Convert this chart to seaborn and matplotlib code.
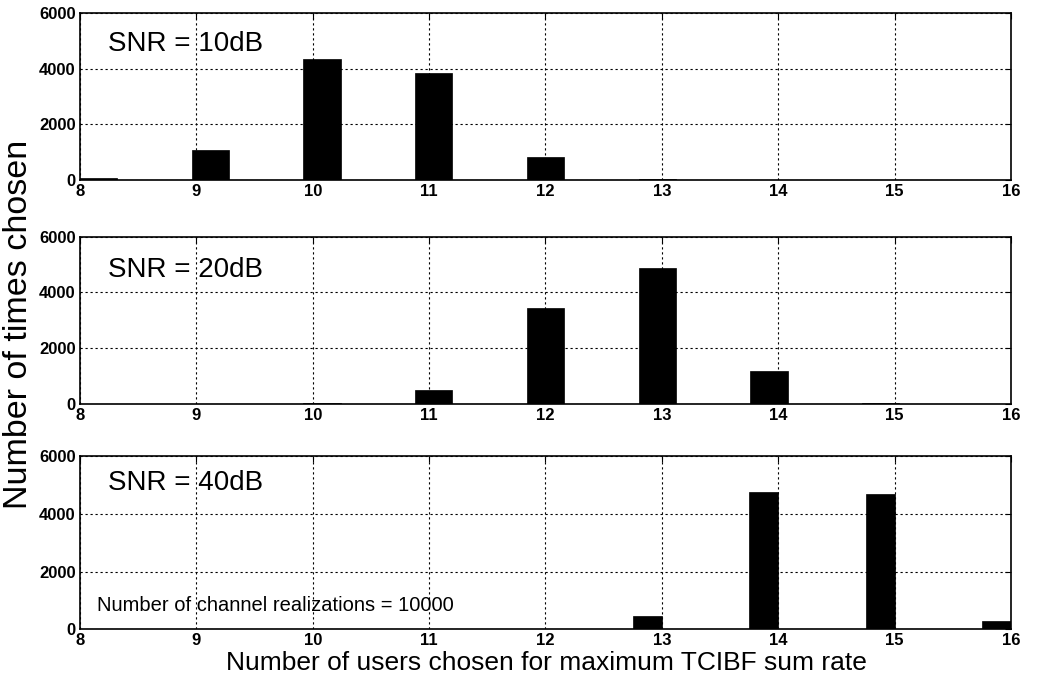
import numpy as np
import pandas as pd
import matplotlib
matplotlib.use("Agg")
import matplotlib.pyplot as plt
import seaborn as sns

# Number of users selected for maximum TCIBF sum rate (10000 channel realizations)
users = np.array([8, 9, 10, 11, 12, 13, 14, 15, 16])
counts_10db = np.array([60, 1070, 4350, 3830, 830, 20, 0, 0, 0])
counts_20db = np.array([0, 0, 30, 500, 3430, 4860, 1170, 20, 0])
counts_40db = np.array([0, 0, 0, 0, 15, 470, 4760, 4670, 280])
snr_labels = ["SNR = 10dB", "SNR = 20dB", "SNR = 40dB"]
x_ticks = [8, 9, 10, 11, 12, 13, 14, 15, 16]
y_ticks = [0, 2000, 4000, 6000]

sns.set_style("white")
plt.rcParams["font.family"] = ["Liberation Sans", "DejaVu Sans"]

fig = plt.figure(figsize=(10.41, 6.85), dpi=100)

# axes rectangles: left, bottom, width, height (figure fraction)
rects = [
    [0.0768, 0.7372, 0.8944, 0.2438],
    [0.0768, 0.4107, 0.8944, 0.2438],
    [0.0768, 0.0813, 0.8944, 0.2530],
]
# histogram binning used for each panel: (bin width, range, right-closed bins)
bin_widths = [0.32, 0.32, 0.25]
bin_ranges = [(8.0, 16.0), (8.0, 16.0), (7.75, 16.0)]
right_closed = [False, False, True]
label_y = [0.815, 0.80, 0.845]

for i, counts in enumerate([counts_10db, counts_20db, counts_40db]):
    ax = fig.add_axes(rects[i])
    w = bin_widths[i]
    lo, hi = bin_ranges[i]
    nb = int(round((hi - lo) / w))
    if right_closed[i]:
        idx = np.ceil((users - lo) / w - 1e-9).astype(int) - 1
    else:
        idx = np.floor((users - lo) / w + 1e-9).astype(int)
    idx = np.clip(idx, 0, nb - 1)
    centers = lo + (idx + 0.5) * w
    df = pd.DataFrame({"users": centers, "count": counts.astype(float)})
    sns.histplot(data=df, x="users", weights="count", binwidth=w,
                 binrange=(lo, hi), ax=ax, color="black", edgecolor="black",
                 linewidth=0.5, alpha=1.0, element="bars", fill=True)
    ax.set_xlim(8, 16)
    ax.set_ylim(0, 6000)
    ax.set_xticks(x_ticks)
    ax.set_yticks(y_ticks)
    ax.set_xticklabels([str(t) for t in x_ticks], fontsize=12, fontweight="bold")
    ax.set_yticklabels([str(t) for t in y_ticks], fontsize=12, fontweight="bold")
    ax.set_xlabel("")
    ax.set_ylabel("")
    ax.set_axisbelow(True)
    ax.grid(True, color="black", linestyle=(0, (2, 2.5)), linewidth=0.8)
    ax.tick_params(direction="in", top=True, right=True, length=4,
                   width=0.8, pad=3, colors="black")
    for sp in ax.spines.values():
        sp.set_visible(True)
        sp.set_color("black")
        sp.set_linewidth(1.2)
    ax.text(0.030, label_y[i], snr_labels[i], transform=ax.transAxes,
            fontsize=20, va="center", ha="left", color="black")
    if i == 2:
        ax.text(0.018, 0.135, "Number of channel realizations = 10000",
                transform=ax.transAxes, fontsize=14.5, va="center",
                ha="left", color="black")

fig.text(0.0175, 0.527, "Number of times chosen", rotation=90,
         fontsize=24.5, va="center", ha="center", color="black")
fig.text(0.525, 0.032, "Number of users chosen for maximum TCIBF sum rate",
         fontsize=19, va="center", ha="center", color="black")

fig.savefig("out.png", dpi=100, facecolor="white")
